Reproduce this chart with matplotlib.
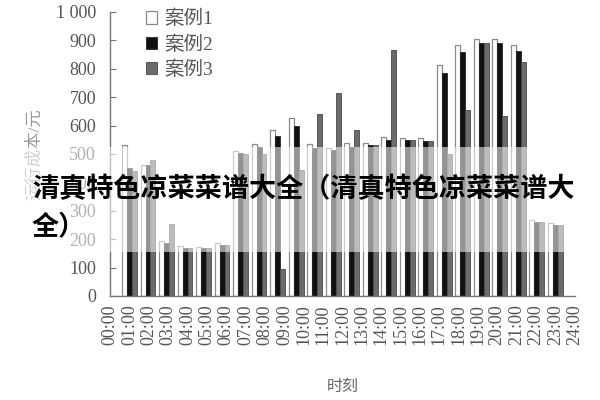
import matplotlib
matplotlib.use("Agg")
import matplotlib.pyplot as plt
import numpy as np
from matplotlib.patches import Rectangle
from matplotlib.font_manager import FontProperties

# hourly operating cost
time_labels = [f"{h:02d}:00" for h in range(25)]
case1 = [530, 460, 195, 175, 172, 185, 510, 535, 585, 625, 535, 520,
         540, 540, 560, 558, 555, 815, 885, 905, 905, 885, 268, 258]
case2 = [450, 460, 185, 170, 168, 178, 505, 525, 565, 600, 520, 515,
         525, 530, 548, 548, 545, 785, 860, 890, 890, 862, 262, 250]
case3 = [440, 480, 255, 170, 168, 178, 500, 500, 95, 445, 640, 715,
         585, 530, 866, 548, 545, 500, 655, 890, 635, 825, 262, 250]
series_names = ["案例1", "案例2", "案例3"]
y_ticks = [0, 100, 200, 300, 400, 500, 600, 700, 800, 900, 1000]
y_tick_labels = ["0", "100", "200", "300", "400", "500", "600", "700", "800", "900", "1 000"]

banner_line1 = "清真特色凉菜菜谱大全（清真特色凉菜菜谱大"
banner_line2 = "全）"

plt.rcParams["font.family"] = ["Liberation Serif", "Noto Sans CJK SC"]

fig = plt.figure(figsize=(6, 4), dpi=100)
fig.patch.set_facecolor("white")
ax = fig.add_axes([110 / 600, 104 / 400, 465 / 600, 284 / 400])

x = np.arange(len(case1))
w = 0.27
ax.bar(x - w, case1, w, color="white", edgecolor="#8a8a8a", linewidth=0.9, label=series_names[0])
ax.bar(x, case2, w, color="#111111", edgecolor="#111111", linewidth=0.5, label=series_names[1])
ax.bar(x + w, case3, w, color="#6b6b6b", edgecolor="#4a4a4a", linewidth=0.6, label=series_names[2])

ax.set_xlim(-1.054, 24.08)
ax.set_ylim(0, 1000)

# time labels spread evenly along the axis
ax.set_xticks(np.linspace(-1.04, 24.06, len(time_labels)))
ax.set_xticklabels(time_labels, rotation=90, fontsize=13, color="#555555")
ax.tick_params(axis="x", length=0, pad=6)

ax.set_yticks(y_ticks)
ax.set_yticklabels(y_tick_labels, fontsize=13, color="#555555")
ax.tick_params(axis="y", direction="in", length=4, color="#777777", pad=10)

for side in ["top", "right"]:
    ax.spines[side].set_visible(False)
for side in ["left", "bottom"]:
    ax.spines[side].set_color("#777777")
    ax.spines[side].set_linewidth(1.0)

ax.set_xlabel("时刻", fontsize=11.5, color="#666666", labelpad=24)
ax.set_ylabel("运行成本/元", fontsize=12.5, color="#999999", labelpad=9)

leg = ax.legend(loc="upper left", bbox_to_anchor=(0.06, 1.035), frameon=False,
                handlelength=0.6, handleheight=0.6, handletextpad=0.35,
                labelspacing=0.35, borderaxespad=0,
                prop=FontProperties(family=["Liberation Serif", "Noto Sans CJK SC"], size=14))
for t in leg.get_texts():
    t.set_color("#555555")

# translucent banner with the bold title over the middle of the chart
fig.add_artist(Rectangle((0, 0.37), 1, 0.2625, transform=fig.transFigure,
                         facecolor="white", alpha=0.55, edgecolor="none", zorder=10))
fig.text(32 / 600, 0.526, banner_line1, fontsize=19.5, fontweight="heavy",
         family=["Noto Sans CJK SC", "DejaVu Sans"], ha="left", va="center", zorder=11)
fig.text(32 / 600, 0.435, banner_line2, fontsize=19.5, fontweight="heavy",
         family=["Noto Sans CJK SC", "DejaVu Sans"], ha="left", va="center", zorder=11)

fig.savefig("out.png", dpi=100)
